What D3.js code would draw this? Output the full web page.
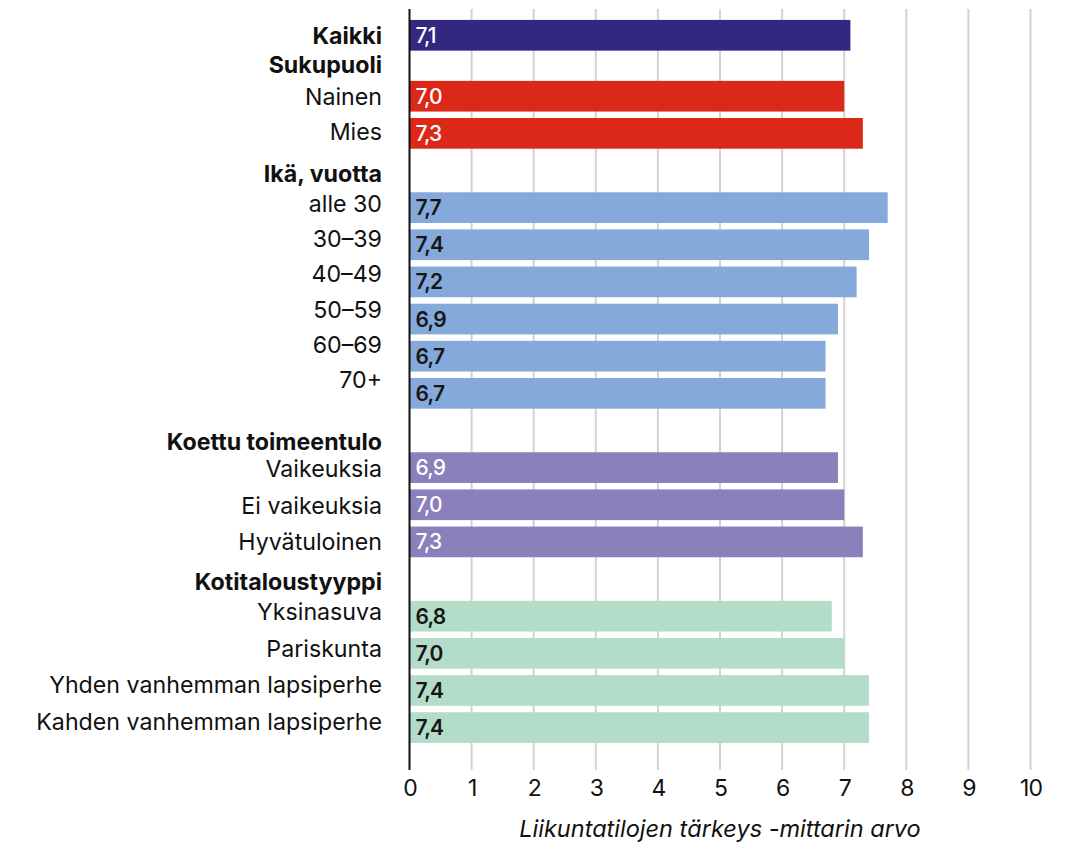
<!DOCTYPE html>
<html>
<head>
<meta charset="utf-8">
<script src="https://cdn.jsdelivr.net/npm/d3@7"></script>
<style>
  html, body { margin: 0; padding: 0; background: #fff; }
  svg { display: block; font-family: Inter, "Noto Sans", sans-serif; }
</style>
</head>
<body>
<svg id="chart" width="1069" height="844"></svg>
<script>
// ---- data ----
const groupTitles = ["", "Sukupuoli", "Ikä, vuotta", "Koettu toimeentulo", "Kotitaloustyyppi"];
const categories = ["Kaikki", "Nainen", "Mies", "alle 30", "30–39", "40–49", "50–59", "60–69", "70+",
  "Vaikeuksia", "Ei vaikeuksia", "Hyvätuloinen", "Yksinasuva", "Pariskunta",
  "Yhden vanhemman lapsiperhe", "Kahden vanhemman lapsiperhe"];
const values = [7.1, 7.0, 7.3, 7.7, 7.4, 7.2, 6.9, 6.7, 6.7, 6.9, 7.0, 7.3, 6.8, 7.0, 7.4, 7.4];
const groupOf = [0, 1, 1, 2, 2, 2, 2, 2, 2, 3, 3, 3, 4, 4, 4, 4];
const xTicks = [0, 1, 2, 3, 4, 5, 6, 7, 8, 9, 10];
const xTitle = "Liikuntatilojen tärkeys -mittarin arvo";

// ---- styles / layout ----
const groupColors = ["#33287f", "#dc2818", "#86a9dc", "#8b80bb", "#b3dcc9"];
const valueTextColors = ["#ffffff", "#ffffff", "#161616", "#ffffff", "#161616"];
const groupGap = [0, 1.64, 2, 2, 2];
const headerLift = [0, 0.84, 0.92, 0.70, 0.93];
const labelBase = [0, 0, -4, 1, -4.5];
const labelStep = [0, -2, -1.9, -0.5, -0.5];
const labelSize = 23.2;

const svg = d3.select("#chart");

// slot positions
const slots = [];
let s = 0;
categories.forEach((c, i) => {
  if (i > 0) s += (groupOf[i] !== groupOf[i - 1]) ? groupGap[groupOf[i]] : 1;
  slots.push(s);
});
const lastSlot = slots[slots.length - 1];

const x = d3.scaleLinear().domain([0, 10]).range([409.5, 1030.5]);
const y = d3.scaleLinear().domain([0, lastSlot]).range([35.3, 727.6]);
const barH = 30.7;
const plotTop = 9, plotBottom = 770;

// gridlines
svg.append("g")
  .selectAll("line")
  .data(xTicks.filter(t => t > 0))
  .join("line")
  .attr("x1", d => x(d)).attr("x2", d => x(d))
  .attr("y1", plotTop).attr("y2", plotBottom)
  .attr("stroke", "#d2d2d2").attr("stroke-width", 2);

// bars
const rows = categories.map((c, i) => ({ c, v: values[i], g: groupOf[i], slot: slots[i], i }));
svg.append("g")
  .selectAll("rect")
  .data(rows)
  .join("rect")
  .attr("x", x(0))
  .attr("y", d => y(d.slot) - barH / 2)
  .attr("width", d => x(d.v) - x(0))
  .attr("height", barH)
  .attr("fill", d => groupColors[d.g]);

// value labels
const fmt = v => v.toFixed(1).replace(".", ",");
svg.append("g")
  .selectAll("text")
  .data(rows)
  .join("text")
  .attr("x", x(0) + 6)
  .attr("y", d => y(d.slot))
  .attr("dy", "0.36em")
  .attr("font-size", 21)
  .attr("font-weight", d => (d.g === 2 || d.g === 4) ? 600 : 500)
  .attr("fill", d => valueTextColors[d.g])
  .attr("letter-spacing", "-0.8px")
  .text(d => fmt(d.v));

// category labels
const idxInGroup = rows.map(r => r.i - groupOf.indexOf(r.g));
svg.append("g")
  .selectAll("text")
  .data(rows)
  .join("text")
  .attr("x", 382)
  .attr("y", d => y(d.slot) + labelBase[d.g] + labelStep[d.g] * idxInGroup[d.i])
  .attr("dy", "0.36em")
  .attr("text-anchor", "end")
  .attr("font-size", labelSize)
  .attr("font-weight", d => d.g === 0 ? 700 : 400)
  .attr("fill", "#111")
  .text(d => d.c);

// group headers
const headers = groupTitles.map((t, g) => ({ t, g })).filter(d => d.t);
svg.append("g")
  .selectAll("text")
  .data(headers)
  .join("text")
  .attr("x", 382)
  .attr("y", d => y(slots[groupOf.indexOf(d.g)] - headerLift[d.g]))
  .attr("dy", "0.36em")
  .attr("text-anchor", "end")
  .attr("font-size", labelSize)
  .attr("font-weight", 700)
  .attr("fill", "#111")
  .text(d => d.t);

// axis line (y)
svg.append("line")
  .attr("x1", x(0)).attr("x2", x(0))
  .attr("y1", plotTop).attr("y2", plotBottom)
  .attr("stroke", "#111").attr("stroke-width", 2);

// x axis labels
const xAxis = d3.axisBottom(x).tickValues(xTicks).tickSize(0).tickPadding(0).tickFormat(d3.format("d"));
const ax = svg.append("g").attr("transform", `translate(0, ${plotBottom})`).call(xAxis);
ax.select(".domain").remove();
ax.selectAll("text")
  .attr("y", 18)
  .attr("dy", "0.36em")
  .attr("font-family", "Inter, 'Noto Sans', sans-serif")
  .attr("font-size", 23)
  .attr("letter-spacing", "-1px")
  .attr("fill", "#111");

// x title
svg.append("text")
  .attr("x", (x(0) + x(10)) / 2)
  .attr("y", 829)
  .attr("dy", "0.36em")
  .attr("text-anchor", "middle")
  .attr("font-size", 23.5)
  .attr("font-style", "italic")
  .attr("fill", "#111")
  .text(xTitle);
</script>
</body>
</html>
